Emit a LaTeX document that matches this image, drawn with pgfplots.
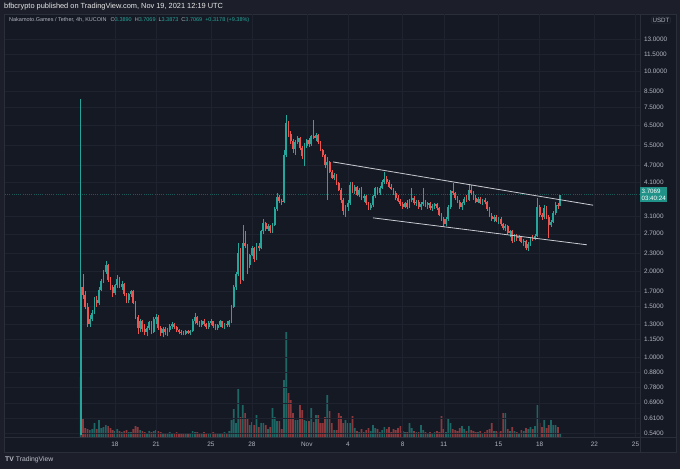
\documentclass[border=0pt]{standalone}
\usepackage{fontspec}
\setmainfont{Liberation Sans}
\usepackage{pgfplots}
\pgfplotsset{compat=1.18}
\usepackage{pgfplotstable}
\definecolor{bgout}{HTML}{1C1F2A}
\definecolor{bgpanel}{HTML}{151924}
\definecolor{gridc}{HTML}{1F2330}
\definecolor{sepc}{HTML}{2A2E39}
\definecolor{txt}{HTML}{B2B5BE}
\definecolor{upc}{HTML}{26A69A}
\definecolor{dnc}{HTML}{EF5350}
\definecolor{trend}{HTML}{C9CBD1}

% k = 4h candle index (k=0: Oct 15 12:00, k=210: Nov 19 12:00); v = volume (relative)
\pgfplotstableread{
k o h l c v
0 0.53 8.00 0.53 1.76 60
4 1.30 1.40 1.27 1.36 7
5 1.36 1.46 1.33 1.43 8
6 1.43 1.62 1.41 1.58 14
8 1.54 1.75 1.52 1.72 17
9 1.72 1.88 1.70 1.85 9
10 1.85 2.02 1.82 1.98 10
11 1.98 2.16 1.95 2.10 12
15 1.68 1.80 1.65 1.78 6
16 1.78 1.93 1.74 1.88 8
18 1.76 1.84 1.72 1.80 5
21 1.58 1.68 1.55 1.66 5
22 1.66 1.72 1.62 1.70 5
26 1.26 1.36 1.22 1.33 7
29 1.22 1.28 1.18 1.26 4
30 1.26 1.34 1.24 1.32 6
32 1.22 1.38 1.21 1.36 6
33 1.36 1.41 1.30 1.38 7
36 1.21 1.27 1.17 1.25 4
38 1.22 1.26 1.18 1.24 4
39 1.24 1.30 1.22 1.28 5
40 1.28 1.32 1.25 1.30 4
46 1.20 1.24 1.19 1.23 3
48 1.21 1.24 1.19 1.23 3
49 1.23 1.36 1.22 1.33 6
50 1.33 1.42 1.30 1.38 5
53 1.29 1.35 1.27 1.33 4
56 1.27 1.33 1.25 1.31 4
57 1.31 1.36 1.29 1.33 4
60 1.26 1.30 1.24 1.29 4
61 1.29 1.35 1.27 1.33 4
63 1.27 1.31 1.25 1.30 5
65 1.29 1.35 1.27 1.33 6
66 1.33 1.52 1.31 1.50 17
67 1.50 1.78 1.48 1.75 28
68 1.75 1.98 1.72 1.95 14
69 1.95 2.50 1.92 2.32 48
71 1.86 2.90 1.84 2.50 32
74 2.10 2.30 2.05 2.28 12
75 2.28 2.45 2.25 2.40 15
77 2.20 2.50 2.18 2.45 22
79 2.40 2.78 2.38 2.75 14
80 2.75 3.05 2.70 2.95 14
82 2.80 2.92 2.76 2.88 8
84 2.75 2.95 2.72 2.90 29
85 2.90 3.35 2.88 3.30 20
86 3.30 3.75 3.25 3.62 16
89 3.48 5.30 3.45 5.10 57
90 5.10 7.05 5.00 6.60 105
94 5.35 5.75 5.10 5.65 17
95 5.65 5.95 5.55 5.85 17
98 5.05 5.60 4.65 5.50 17
99 5.50 5.80 5.40 5.75 16
101 5.55 6.00 5.50 5.95 29
103 5.85 6.10 5.70 6.00 22
108 4.70 5.00 3.55 4.80 42
111 4.25 4.40 4.15 4.35 7
116 3.25 3.40 3.09 3.35 17
117 3.35 3.55 3.25 3.45 14
118 3.45 4.10 3.40 4.00 14
120 3.80 4.00 3.72 3.95 9
122 3.70 3.90 3.62 3.85 5
124 3.60 3.72 3.50 3.65 5
127 3.32 3.45 3.28 3.40 6
128 3.40 3.70 3.35 3.65 12
129 3.65 3.95 3.60 3.90 9
131 3.75 3.98 3.70 3.92 5
132 3.92 4.15 3.88 4.10 7
133 4.10 4.45 4.05 4.20 10
142 3.36 3.50 3.32 3.45 5
144 3.35 3.58 3.32 3.55 14
145 3.55 3.90 3.50 3.60 9
147 3.45 3.55 3.38 3.50 5
149 3.35 3.48 3.28 3.42 12
150 3.42 3.90 3.38 3.50 7
152 3.40 3.48 3.30 3.45 4
154 3.32 3.42 3.25 3.38 4
155 3.38 3.45 3.30 3.42 5
160 2.92 3.10 2.88 3.05 5
161 3.05 3.40 3.00 3.35 18
162 3.35 3.85 3.30 3.80 14
167 3.35 3.50 3.28 3.45 11
168 3.45 3.62 3.40 3.58 8
170 3.55 4.05 3.52 3.85 11
174 3.50 3.62 3.45 3.58 5
176 3.45 3.58 3.40 3.55 4
181 3.05 3.15 2.98 3.10 6
183 3.00 3.08 2.92 3.05 5
186 2.82 2.92 2.75 2.88 24
188 2.72 2.78 2.62 2.75 6
190 2.55 2.70 2.52 2.66 6
192 2.60 2.68 2.55 2.64 4
194 2.53 2.58 2.45 2.55 6
196 2.40 2.52 2.35 2.48 8
197 2.48 2.62 2.45 2.60 10
199 2.58 2.70 2.56 2.66 11
200 2.66 3.60 2.62 3.35 32
203 3.08 3.40 3.05 3.32 17
206 2.90 3.02 2.85 2.98 17
207 2.98 3.25 2.95 3.20 12
208 3.20 3.50 3.15 3.40 12
210 3.3890 3.7069 3.3873 3.7069 4
}\up

\pgfplotstableread{
k o h l c v
1 1.76 1.95 1.60 1.65 18
2 1.65 1.70 1.47 1.50 9
3 1.50 1.55 1.27 1.30 8
7 1.58 1.63 1.50 1.54 8
12 2.10 2.12 1.83 1.86 11
13 1.86 1.90 1.72 1.75 9
14 1.75 1.78 1.62 1.68 7
17 1.88 1.90 1.74 1.76 6
19 1.80 1.82 1.64 1.66 6
20 1.66 1.68 1.54 1.58 7
23 1.70 1.72 1.53 1.55 8
24 1.55 1.57 1.36 1.38 11
25 1.38 1.40 1.20 1.26 10
27 1.33 1.35 1.22 1.25 6
28 1.25 1.30 1.19 1.22 5
31 1.32 1.33 1.20 1.22 5
34 1.38 1.40 1.24 1.26 6
35 1.26 1.28 1.18 1.21 5
37 1.25 1.27 1.19 1.22 4
41 1.30 1.31 1.25 1.27 4
42 1.27 1.28 1.22 1.24 5
43 1.24 1.25 1.20 1.22 4
44 1.22 1.24 1.19 1.21 3
45 1.21 1.23 1.19 1.20 3
47 1.23 1.24 1.20 1.21 3
51 1.38 1.39 1.29 1.31 5
52 1.31 1.34 1.27 1.29 4
54 1.33 1.36 1.28 1.30 5
55 1.30 1.31 1.25 1.27 4
58 1.33 1.34 1.26 1.28 5
59 1.28 1.30 1.24 1.26 4
62 1.33 1.34 1.26 1.27 4
64 1.30 1.34 1.27 1.29 4
70 2.32 2.40 1.80 1.86 20
72 2.50 2.75 2.40 2.45 24
73 2.45 2.48 1.95 2.10 18
76 2.40 2.42 2.15 2.20 12
78 2.45 2.50 2.35 2.40 10
81 2.95 2.98 2.76 2.80 12
83 2.88 2.90 2.72 2.75 10
87 3.62 3.70 3.45 3.52 16
88 3.52 3.56 3.40 3.48 8
91 6.60 6.70 5.90 6.05 44
92 6.05 6.20 5.55 5.70 37
93 5.70 5.80 5.20 5.35 24
96 5.85 5.90 5.30 5.40 32
97 5.40 5.50 4.95 5.05 27
100 5.75 5.85 5.45 5.55 16
102 5.95 6.75 5.80 5.85 15
104 6.00 6.05 5.55 5.65 22
105 5.65 5.70 5.25 5.30 14
106 5.30 5.35 5.00 5.10 14
107 5.10 5.15 4.60 4.70 20
109 4.80 4.85 4.40 4.45 26
110 4.45 4.50 4.20 4.25 14
112 4.35 4.38 4.00 4.06 7
113 4.06 4.10 3.80 3.85 24
114 3.85 3.90 3.45 3.55 21
115 3.55 3.60 3.15 3.25 14
119 4.00 4.10 3.75 3.80 21
121 3.95 3.98 3.65 3.70 6
123 3.85 3.95 3.55 3.60 8
125 3.65 3.68 3.40 3.45 7
126 3.45 3.50 3.28 3.32 9
130 3.90 3.95 3.70 3.75 8
134 4.20 4.30 4.05 4.10 8
135 4.10 4.15 3.90 3.95 10
136 3.95 4.05 3.85 3.88 5
137 3.88 3.92 3.70 3.75 8
138 3.75 3.80 3.55 3.60 7
139 3.60 3.70 3.48 3.52 9
140 3.52 3.58 3.38 3.42 11
141 3.42 3.50 3.30 3.36 6
143 3.45 3.55 3.30 3.35 5
146 3.60 3.65 3.40 3.45 6
148 3.50 3.55 3.30 3.35 5
151 3.50 3.55 3.35 3.40 5
153 3.45 3.50 3.28 3.32 5
156 3.42 3.45 3.28 3.32 6
157 3.32 3.35 3.12 3.15 5
158 3.15 3.20 3.00 3.05 21
159 3.05 3.10 2.85 2.92 8
163 3.80 4.06 3.70 3.74 8
164 3.74 3.78 3.55 3.60 7
165 3.60 3.65 3.45 3.50 6
166 3.50 3.55 3.30 3.35 9
169 3.58 3.70 3.50 3.55 6
171 3.85 4.00 3.70 3.75 7
172 3.75 3.80 3.55 3.60 6
173 3.60 3.68 3.45 3.50 5
175 3.58 3.62 3.42 3.45 6
177 3.55 3.60 3.42 3.48 5
178 3.48 3.52 3.25 3.30 7
179 3.30 3.35 3.08 3.12 8
180 3.12 3.18 3.00 3.05 14
182 3.10 3.14 2.96 3.00 6
184 3.05 3.08 2.88 2.92 6
185 2.92 2.95 2.78 2.82 24
187 2.88 2.90 2.68 2.72 8
189 2.75 2.78 2.50 2.55 10
191 2.66 2.70 2.55 2.60 5
193 2.64 2.66 2.50 2.53 7
195 2.55 2.57 2.36 2.40 9
198 2.60 2.68 2.55 2.58 8
201 3.35 3.40 3.10 3.15 14
202 3.15 3.20 3.02 3.08 10
204 3.32 3.38 3.05 3.10 9
205 3.10 3.14 2.61 2.90 12
209 3.40 3.45 3.30 3.389 10
}\down

\begin{document}
\begin{tikzpicture}[x=1pt,y=1pt]
% canvas and panel
\fill[bgout] (0,0) rectangle (680,469);
\fill[bgpanel] (4,17) rectangle (676,455);
\draw[sepc,line width=0.6pt] (4,17) rectangle (676,455);
\draw[sepc,line width=0.6pt] (4,32) -- (676,32);
\draw[sepc,line width=0.6pt] (640,17) -- (640,455);

% volume
\begin{axis}[at={(5pt,32pt)}, anchor=south west, scale only axis,
  width=635pt, height=423pt, xmin=-33.18, xmax=244.96, ymin=0, ymax=423,
  hide axis, clip=true]
\addplot[ybar, bar width=1.7pt, bar shift=0pt, fill=upc, fill opacity=0.55, draw=none] table[x=k,y=v]{\up};
\addplot[ybar, bar width=1.7pt, bar shift=0pt, fill=dnc, fill opacity=0.55, draw=none] table[x=k,y=v]{\down};
\end{axis}

% price
\begin{axis}[at={(5pt,32pt)}, anchor=south west, scale only axis,
  width=635pt, height=423pt,
  xmin=-33.18, xmax=244.96, ymode=log, ymin=0.5235, ymax=15.91,
  axis line style={draw=none}, tick style={draw=none},
  clip mode=individual,
  xtick={15,33,57,75,99,117,141,159,183,201,225,243},
  xticklabels={18,21,25,28,Nov,4,8,11,15,18,22,25},
  xticklabel style={font=\fontsize{6.4}{7}\selectfont, text=txt, yshift=-1.5pt},
  ytick={13,11.5,10,8.5,7.5,6.5,5.5,4.7,4.1,3.1,2.7,2.3,2.0,1.7,1.5,1.3,1.15,1.0,0.88,0.78,0.69,0.61,0.54},
  yticklabels={13.0000,11.5000,10.0000,8.5000,7.5000,6.5000,5.5000,4.7000,4.1000,3.1000,2.7000,2.3000,2.0000,1.7000,1.5000,1.3000,1.1500,1.0000,0.8800,0.7800,0.6900,0.6100,0.5400},
  yticklabel pos=right,
  yticklabel style={font=\fontsize{6.4}{7}\selectfont, text=txt, anchor=west, xshift=0.5pt},
  grid=major, major grid style={gridc, line width=0.5pt},
  minor tick num=0,
]
% current price dotted line
\addplot[upc!45!bgpanel, line width=0.35pt, dash pattern=on 0.6pt off 1.6pt, forget plot] coordinates {(-33.18,3.7069) (244.96,3.7069)};
% wicks
\addplot[draw=none, mark=none, forget plot, error bars/.cd, y dir=plus, y explicit, error mark=none,
  error bar style={upc, line width=0.65pt}] table[x=k, y=l, y error plus expr=\thisrow{h}-\thisrow{l}]{\up};
\addplot[draw=none, mark=none, forget plot, error bars/.cd, y dir=plus, y explicit, error mark=none,
  error bar style={dnc, line width=0.65pt}] table[x=k, y=l, y error plus expr=\thisrow{h}-\thisrow{l}]{\down};
% bodies
\addplot[draw=none, mark=none, forget plot, error bars/.cd, y dir=plus, y explicit, error mark=none,
  error bar style={upc, line width=1.8pt}] table[x=k, y=o, y error plus expr=\thisrow{c}-\thisrow{o}]{\up};
\addplot[draw=none, mark=none, forget plot, error bars/.cd, y dir=plus, y explicit, error mark=none,
  error bar style={dnc, line width=1.8pt}] table[x=k, y=c, y error plus expr=\thisrow{o}-\thisrow{c}]{\down};
% channel trend lines
\addplot[trend, line width=0.8pt] coordinates {(110.5,4.82) (224.4,3.40)};
\addplot[trend, line width=0.8pt] coordinates {(128.0,3.07) (221.7,2.47)};
% last price label
\node[fill=upc!88!black, text=white, anchor=west, inner sep=1.4pt, align=left,
  font=\fontsize{6.2}{7}\selectfont] at (axis cs:244.96,3.7069) {3.7069\\03:40:24};
\end{axis}

% header texts
\node[anchor=west, text=white!82!gray, font=\fontsize{7.4}{8}\selectfont, inner sep=0] at (4,462) {bfbcrypto published on TradingView.com, Nov 19, 2021 12:19 UTC};
\node[anchor=west, font=\fontsize{5.5}{6}\selectfont, inner sep=0] at (9,449) {\textcolor{txt}{Nakamoto.Games / Tether, 4h, KUCOIN}\hspace{4pt}\textcolor{txt}{O}\textcolor{upc}{3.3890}\hspace{3pt}\textcolor{txt}{H}\textcolor{upc}{3.7069}\hspace{3pt}\textcolor{txt}{L}\textcolor{upc}{3.3873}\hspace{3pt}\textcolor{txt}{C}\textcolor{upc}{3.7069}\hspace{3pt}\textcolor{upc}{+0.3178 (+9.38\%)}};
\node[text=txt, font=\fontsize{6.2}{7}\selectfont, draw=sepc, rounded corners=1pt, inner sep=1pt] at (661,449) {USDT};
\node[anchor=west, text=txt!85!white, font=\fontsize{6.8}{8}\selectfont, inner sep=0] at (5,9) {\textbf{TV}\hspace{2pt}TradingView};
\end{tikzpicture}
\end{document}
